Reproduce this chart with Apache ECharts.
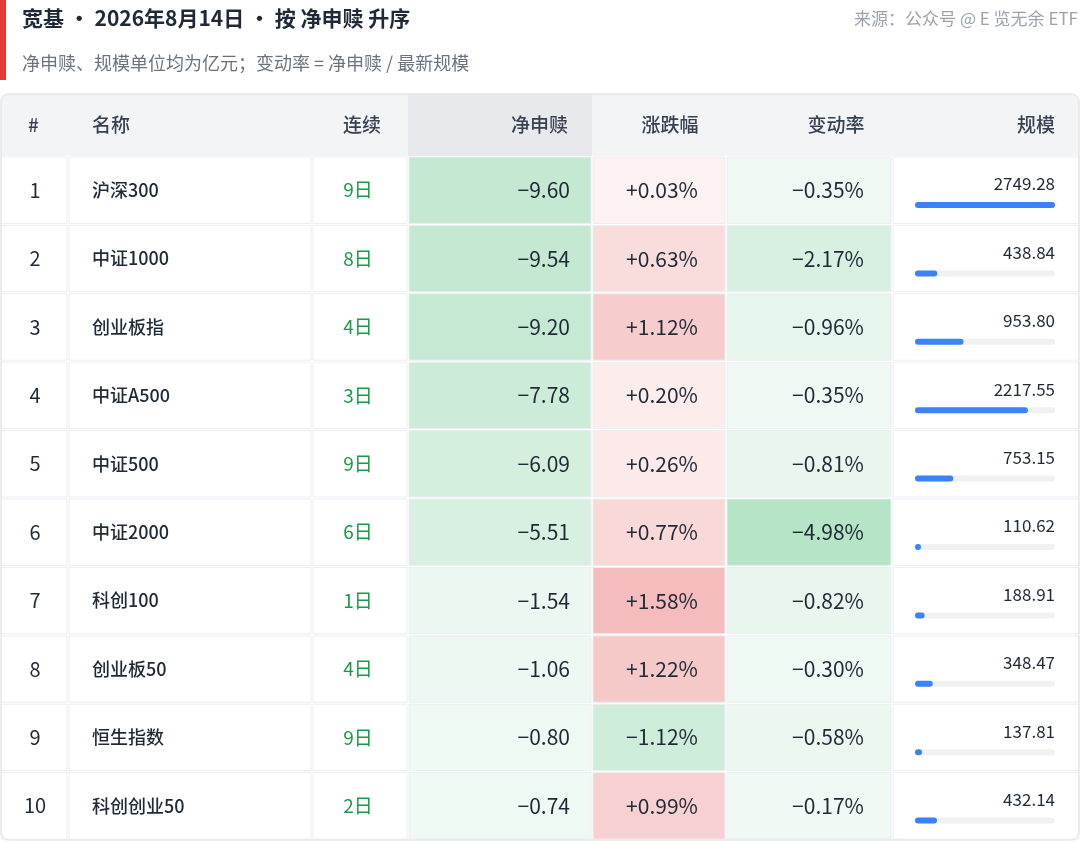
<!DOCTYPE html>
<html><head><meta charset="utf-8">
<script src="https://cdn.jsdelivr.net/npm/echarts@6/dist/echarts.min.js"></script>
<style>html,body{margin:0;padding:0;background:#fff}#c{width:1080px;height:841px}</style>
</head><body><div id="c"></div>
<script>
const names=['沪深300','中证1000','创业板指','中证A500','中证500','中证2000','科创100','创业板50','恒生指数','科创创业50'];
const streak=[9,8,4,3,9,6,1,4,9,2];
const netFlow=[-9.60,-9.54,-9.20,-7.78,-6.09,-5.51,-1.54,-1.06,-0.80,-0.74];
const pctChg=[0.03,0.63,1.12,0.20,0.26,0.77,1.58,1.22,-1.12,0.99];
const flowRate=[-0.35,-2.17,-0.96,-0.35,-0.81,-4.98,-0.82,-0.30,-0.58,-0.17];
const scale=[2749.28,438.84,953.80,2217.55,753.15,110.62,188.91,348.47,137.81,432.14];
const headers=['#','名称','连续','净申赎','涨跌幅','变动率','规模'];

const cols=[0,68,312,408,592,726,892,1080];
const F='"Noto Sans CJK SC","Noto Sans",sans-serif';
function hex(c){return [1,3,5].map(i=>parseInt(c.substr(i,2),16));}
function mix(a,b,t){t=Math.max(0,Math.min(1,t));const A=hex(a),B=hex(b);return 'rgb('+A.map((v,i)=>Math.round(v+(B[i]-v)*t)).join(',')+')';}
const maxNet=Math.max(...netFlow.map(Math.abs)),maxPct=Math.max(...pctChg.map(Math.abs)),maxRate=Math.max(...flowRate.map(Math.abs)),maxScale=Math.max(...scale);
const fmt=(v,d)=>(v<0?'−':'+')+Math.abs(v).toFixed(d);
const chart=echarts.init(document.getElementById('c'));
const data=names.map((n,i)=>[0,i]);
const hx=[28,92,381,568,670,836,1055];
const ha=['left','left','right','right','center','center','right'];
const headerEls=headers.map((h,k)=>({type:'text',x:hx[k],y:125,style:{text:h,font:'500 19px '+F,fill:'#374151',align:ha[k],verticalAlign:'middle'}}));
chart.setOption({
  animation:false,
  grid:{left:0,right:0,top:156,bottom:1},
  xAxis:{type:'value',min:0,max:1080,show:false},
  yAxis:{type:'category',data:names,inverse:true,show:false},
  graphic:[
    {type:'rect',shape:{x:0,y:0,width:6,height:80},style:{fill:'#e53935'}},
    {type:'text',x:22,y:18,style:{text:'宽基 · 2026年8月14日 · 按 净申赎 升序',font:'bold 21px '+F,fill:'#1f2937',verticalAlign:'middle'}},
    {type:'text',x:22,y:63,style:{text:'净申赎、规模单位均为亿元；变动率 = 净申赎 / 最新规模',font:'18px '+F,fill:'#6b7280',verticalAlign:'middle'}},
    {type:'text',x:1078,y:19,style:{text:'来源：公众号 @ E 览无余 ETF',font:'17px '+F,fill:'#9ca3af',align:'right',verticalAlign:'middle'}},
    {type:'rect',shape:{x:1,y:94,width:1078,height:746,r:8},style:{fill:'none',stroke:'#e5e7eb',lineWidth:1.5},z:10},
    {type:'rect',shape:{x:1,y:94,width:1078,height:62,r:[8,8,0,0]},style:{fill:'#f3f4f6'}},
    {type:'rect',shape:{x:408,y:94,width:184,height:62},style:{fill:'#e8e9ed'}}
  ].concat(headerEls),
  series:[{type:'custom',data:data,renderItem:function(params,api){
    const i=api.value(1);
    const y0=api.coord([0,i])[1]-api.size([0,1])[1]/2, h=api.size([0,1])[1];
    const cy=y0+h/2;
    const ch=[];
    const cell=(k,fill)=>ch.push({type:'rect',shape:{x:cols[k]+1,y:y0+1,width:cols[k+1]-cols[k]-2,height:h-2},style:{fill:fill,stroke:'#eceef1',lineWidth:1}});
    cell(0,'#fff');cell(1,'#fff');cell(2,'#fff');
    cell(3,mix('#f3faf6','#c4e8d2',Math.abs(netFlow[i])/maxNet));
    const p=pctChg[i];
    cell(4,p>=0?mix('#fdf3f3','#f4bcbc',p/maxPct):mix('#f3faf6','#c4e8d2',Math.abs(p)/maxPct*1.1));
    cell(5,mix('#f3faf6','#b6e4c6',Math.abs(flowRate[i])/maxRate));
    cell(6,'#fff');
    const t=(txt,x,al,font,fill,yy)=>ch.push({type:'text',style:{text:txt,x:x,y:yy==null?cy:yy,align:al,verticalAlign:'middle',font:font,fill:fill}});
    t(String(i+1),35,'center','20px '+F,'#1f2937');
    t(names[i],92,'left','500 18px '+F,'#1f2937');
    t(streak[i]+'日',358,'center','19px '+F,'#1a9a4a');
    t(fmt(netFlow[i],2),570,'right','21px '+F,'#1f2937');
    t(fmt(p,2)+'%',662,'center','21px '+F,'#1f2937');
    t(fmt(flowRate[i],2)+'%',828,'center','21px '+F,'#1f2937');
    t(scale[i].toFixed(2),1055,'right','17px '+F,'#1f2937',y0+28);
    ch.push({type:'rect',shape:{x:915,y:y0+46,width:140,height:6,r:3},style:{fill:'#f0f1f3'}});
    ch.push({type:'rect',shape:{x:915,y:y0+46,width:Math.max(6,140*scale[i]/maxScale),height:6,r:3},style:{fill:'#3b82f6'}});
    return {type:'group',children:ch};
  }}]
});
</script></body></html>
